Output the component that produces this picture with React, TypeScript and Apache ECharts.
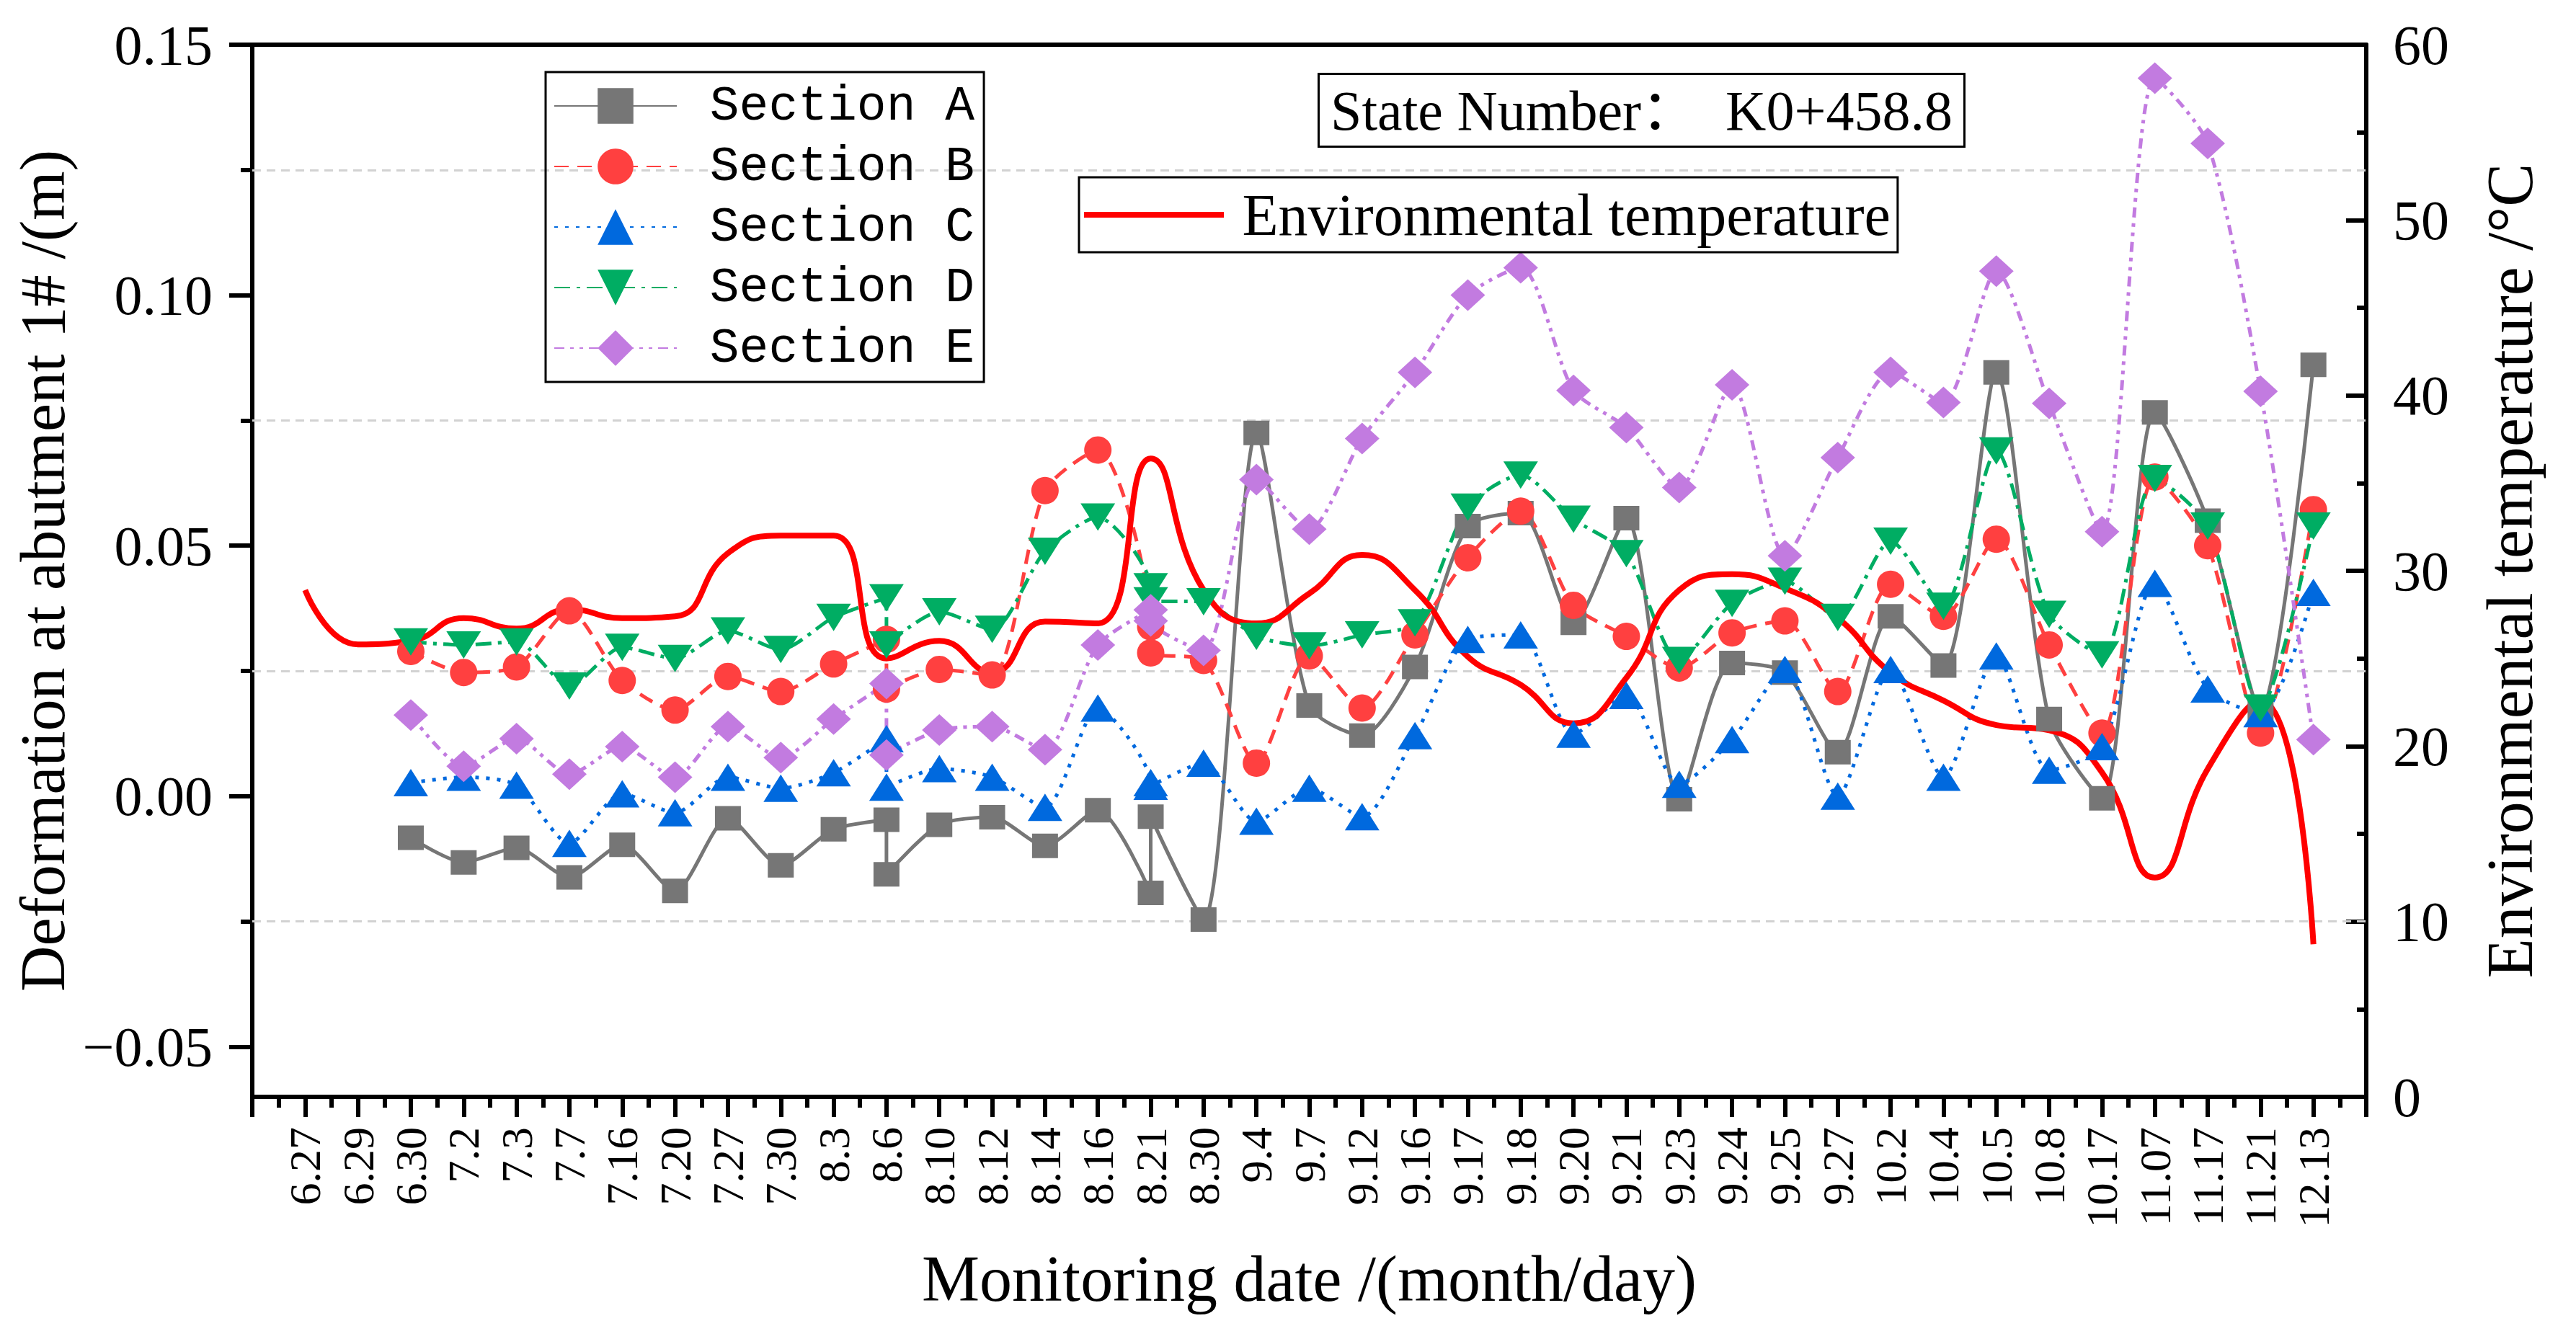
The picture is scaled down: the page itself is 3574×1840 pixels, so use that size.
import { useEffect, useRef } from 'react';
import * as echarts from 'echarts';

// monitoring dates (x categories, placed at 1..39 on a 0..40 value axis)
const dates = [
  '6.27', '6.29', '6.30', '7.2', '7.3', '7.7', '7.16', '7.20', '7.27', '7.30',
  '8.3', '8.6', '8.10', '8.12', '8.14', '8.16', '8.21', '8.30', '9.4', '9.7',
  '9.12', '9.16', '9.17', '9.18', '9.20', '9.21', '9.23', '9.24', '9.25', '9.27',
  '10.2', '10.4', '10.5', '10.8', '10.17', '11.07', '11.17', '11.21', '12.13',
];

// dates of the section measurements (8.6 and 8.21 were measured twice)
const pointDates = [
  '6.30', '7.2', '7.3', '7.7', '7.16', '7.20', '7.27', '7.30',
  '8.3', '8.6', '8.6', '8.10', '8.12', '8.14', '8.16', '8.21', '8.21', '8.30',
  '9.4', '9.7', '9.12', '9.16', '9.17', '9.18', '9.20', '9.21', '9.23', '9.24', '9.25', '9.27',
  '10.2', '10.4', '10.5', '10.8', '10.17', '11.07', '11.17', '11.21', '12.13',
];

const sectionA = [
  -0.0083, -0.0132, -0.0103, -0.0162, -0.0097, -0.0189, -0.0044, -0.0138,
  -0.0066, -0.0047, -0.0156, -0.0057, -0.0042, -0.0099, -0.0028, -0.0193, -0.0041, -0.0246,
  0.0725, 0.0181, 0.0121, 0.0258, 0.0539, 0.0565, 0.0346, 0.0555, -0.0006, 0.0266, 0.0247, 0.0088,
  0.0359, 0.0261, 0.0846, 0.0154, -0.0004, 0.0766, 0.055, 0.017, 0.0861,
];
const sectionB = [
  0.0289, 0.0247, 0.0258, 0.037, 0.0231, 0.0172, 0.0239, 0.0209,
  0.0264, 0.0313, 0.0214, 0.0253, 0.0242, 0.061, 0.0691, 0.0338, 0.0286, 0.0271,
  0.0066, 0.028, 0.0176, 0.0322, 0.0476, 0.0569, 0.0381, 0.0319, 0.0256, 0.0326, 0.035, 0.0209,
  0.0423, 0.0359, 0.0513, 0.0302, 0.0126, 0.0637, 0.05, 0.0126, 0.0572,
];
const sectionC = [
  0.0027, 0.0038, 0.0022, -0.0094, 0.0005, -0.0033, 0.0038, 0.0016,
  0.0047, 0.0115, 0.0018, 0.0055, 0.0038, -0.0022, 0.0176, 0.0027, 0.002, 0.0066,
  -0.005, 0.0016, -0.0041, 0.0121, 0.0313, 0.0322, 0.0124, 0.0201, 0.0024, 0.0113, 0.0253, 0.0,
  0.0253, 0.0038, 0.028, 0.0052, 0.0099, 0.0425, 0.0214, 0.0165, 0.0407,
];
const sectionD = [
  0.0308, 0.0302, 0.0308, 0.022, 0.0297, 0.0275, 0.033, 0.0293,
  0.0357, 0.0396, 0.0302, 0.0368, 0.0333, 0.0489, 0.0557, 0.0418, 0.039, 0.0388,
  0.0319, 0.03, 0.0322, 0.0346, 0.0577, 0.0641, 0.0553, 0.0484, 0.0271, 0.0385, 0.0429, 0.0357,
  0.0509, 0.0379, 0.0689, 0.0363, 0.0282, 0.0634, 0.0539, 0.0176, 0.0539,
];
const sectionE = [
  0.0162, 0.006, 0.0115, 0.0044, 0.0099, 0.0038, 0.0139, 0.0077,
  0.0154, 0.0225, 0.0082, 0.0132, 0.0139, 0.0093, 0.0302, 0.0372, 0.035, 0.0291,
  0.0632, 0.0533, 0.0714, 0.0846, 0.1, 0.1055, 0.081, 0.0736, 0.0616, 0.0821, 0.048, 0.0676,
  0.0846, 0.0786, 0.1048, 0.0784, 0.0528, 0.1433, 0.1303, 0.0808, 0.0113,
];

// environmental temperature (°C), one value per date
const temperature = [
  28.9, 25.8, 26.0, 27.3, 26.7, 27.8, 27.3, 27.4, 31.0, 32.0,
  32.0, 25.0, 26.0, 24.2, 27.1, 27.0, 36.4, 28.9, 27.0, 28.7,
  30.9, 28.9, 25.1, 23.5, 21.3, 23.9, 28.9, 29.8, 29.0, 27.3,
  24.2, 22.6, 21.2, 20.9, 18.5, 12.5, 18.7, 22.6, 8.7,
];

const leftTicks = [-0.05, 0, 0.05, 0.1, 0.15];
const leftMinorTicks = [-0.025, 0.025, 0.075, 0.125];

const serif = '"Liberation Serif", "Times New Roman", serif';
const mono = '"Liberation Mono", "Courier New", monospace';

const sections = [
  { name: 'Section A', values: sectionA, color: '#767676', symbol: 'rect', size: [36, 34], rotate: 0, dash: 'solid' },
  { name: 'Section B', values: sectionB, color: '#FF4040', symbol: 'circle', size: 38, rotate: 0, dash: [20, 12] },
  { name: 'Section C', values: sectionC, color: '#0069DE', symbol: 'triangle', size: [48, 38], rotate: 0, dash: [5, 10] },
  { name: 'Section D', values: sectionD, color: '#00AD63', symbol: 'triangle', size: [48, 38], rotate: 180, dash: [22, 9, 5, 9] },
  { name: 'Section E', values: sectionE, color: '#C27BE0', symbol: 'diamond', size: [48, 44], rotate: 0, dash: [14, 8, 5, 8, 5, 8] },
];

const black = '#000';

export default function App() {
  const chartRef = useRef<HTMLDivElement>(null);

  useEffect(() => {
    if (!chartRef.current) return;
    const chart = echarts.init(chartRef.current, null, { renderer: 'svg' });

    const sectionSeries = sections.map((s, idx) => ({
      type: 'line',
      name: s.name,
      xAxisIndex: 0,
      yAxisIndex: 0,
      data: pointDates.map((d, k) => [dates.indexOf(d) + 1, s.values[k]]),
      smooth: 0.25,
      symbol: s.symbol,
      symbolSize: s.size,
      symbolRotate: s.rotate,
      itemStyle: { color: s.color },
      lineStyle: { color: s.color, width: 5, type: s.dash },
      markLine:
        idx === 0
          ? {
              silent: true,
              z: 1,
              precision: 4,
              symbol: 'none',
              label: { show: false },
              lineStyle: { color: '#d2d2d2', type: [12, 8], width: 3 },
              data: leftMinorTicks.map((v) => ({ yAxis: v })),
            }
          : undefined,
    }));

    const option = {
      animation: false,
      backgroundColor: '#fff',
      textStyle: { fontFamily: serif, color: black },
      title: {
        text: 'State Number：  K0+458.8',
        left: 1829,
        top: 102,
        padding: [12, 17, 12, 17],
        borderColor: black,
        borderWidth: 3,
        textStyle: {
          fontFamily: '"Liberation Serif", "Noto Sans CJK SC", serif',
          fontSize: 78,
          fontWeight: 'normal',
          color: black,
        },
      },
      legend: [
        {
          data: sections.map((s) => s.name),
          orient: 'vertical',
          left: 757,
          top: 100,
          padding: [13, 13, 13, 11],
          itemGap: 16,
          itemWidth: 170,
          itemHeight: 62,
          borderColor: black,
          borderWidth: 3,
          selectedMode: false,
          formatter: (n: string) => ' ' + n,
          textStyle: { fontFamily: mono, fontSize: 68, color: black },
        },
        {
          data: ['Environmental temperature'],
          left: 1497,
          top: 246,
          padding: [11, 10, 11, 7],
          icon: 'rect',
          itemWidth: 194,
          itemHeight: 8,
          borderColor: black,
          borderWidth: 3,
          selectedMode: false,
          formatter: (n: string) => ' ' + n,
          textStyle: { fontFamily: serif, fontSize: 82, color: black },
        },
      ],
      grid: { left: 350, right: 291, top: 62, bottom: 318, outerBoundsMode: 'none' },
      xAxis: [
        {
          type: 'value',
          min: 0,
          max: 40,
          interval: 1,
          name: 'Monitoring date /(month/day)',
          nameLocation: 'middle',
          nameGap: 207,
          nameTextStyle: { fontFamily: serif, fontSize: 90, color: black },
          axisLine: { show: true, onZero: false, lineStyle: { color: black, width: 6 } },
          axisTick: { show: true, length: 28, lineStyle: { color: black, width: 6 } },
          minorTick: { show: true, splitNumber: 2, length: 15, lineStyle: { color: black, width: 6 } },
          axisLabel: {
            rotate: 90,
            margin: 42,
            fontFamily: serif,
            fontSize: 62,
            color: black,
            formatter: (v: number) => dates[Math.round(v) - 1] ?? '',
          },
          splitLine: { show: false },
        },
        {
          type: 'value',
          position: 'top',
          min: 0,
          max: 40,
          interval: 1,
          axisLine: { show: true, onZero: false, lineStyle: { color: black, width: 6 } },
          axisTick: { show: false },
          axisLabel: { show: false },
          splitLine: { show: false },
        },
      ],
      yAxis: [
        {
          type: 'value',
          position: 'left',
          min: -0.06,
          max: 0.15,
          splitNumber: 4,
          name: 'Deformation at abutment 1# /(m)',
          nameLocation: 'middle',
          nameRotate: 90,
          nameGap: 225,
          nameTextStyle: { fontFamily: serif, fontSize: 88, color: black },
          axisLine: { show: true, onZero: false, lineStyle: { color: black, width: 6 } },
          axisTick: { show: true, customValues: leftTicks, length: 32, lineStyle: { color: black, width: 6 } },
          axisLabel: {
            customValues: leftTicks,
            margin: 55,
            fontFamily: serif,
            fontSize: 78,
            color: black,
            formatter: (v: number) => (v < 0 ? '\u2212' + Math.abs(v).toFixed(2) : v.toFixed(2)),
          },
          splitLine: { show: false },
        },
        {
          type: 'value',
          position: 'right',
          min: 0,
          max: 60,
          interval: 10,
          name: 'Environmental temperature /°C',
          nameLocation: 'middle',
          nameRotate: 90,
          nameGap: 154,
          nameTextStyle: { fontFamily: serif, fontSize: 90, color: black },
          axisLine: { show: true, onZero: false, lineStyle: { color: black, width: 6 } },
          axisTick: { show: true, inside: true, length: 28, lineStyle: { color: black, width: 6 } },
          minorTick: { show: true, splitNumber: 2, length: 13, lineStyle: { color: black, width: 6 } },
          axisLabel: { margin: 37, fontFamily: serif, fontSize: 78, color: black },
          splitLine: { show: false },
        },
        {
          type: 'value',
          position: 'left',
          min: -0.06,
          max: 0.15,
          splitNumber: 4,
          axisLine: { show: false, onZero: false },
          axisTick: { show: true, customValues: leftMinorTicks, length: 16, lineStyle: { color: black, width: 6 } },
          axisLabel: { show: false },
          splitLine: { show: false },
        },
      ],
      series: [
        ...sectionSeries,
        {
          type: 'line',
          name: 'Environmental temperature',
          xAxisIndex: 0,
          yAxisIndex: 1,
          data: temperature.map((t, k) => [k + 1, t]),
          smooth: 0.5,
          symbol: 'none',
          itemStyle: { color: '#FF0000' },
          lineStyle: { color: '#FF0000', width: 8 },
          z: 3,
        },
      ],
    };

    chart.setOption(option as any);
    return () => {
      chart.dispose();
    };
  }, []);

  return (
    <div
      ref={chartRef}
      style={{ position: 'fixed', left: 0, top: 0, width: 3574, height: 1840, background: '#fff' }}
    />
  );
}
